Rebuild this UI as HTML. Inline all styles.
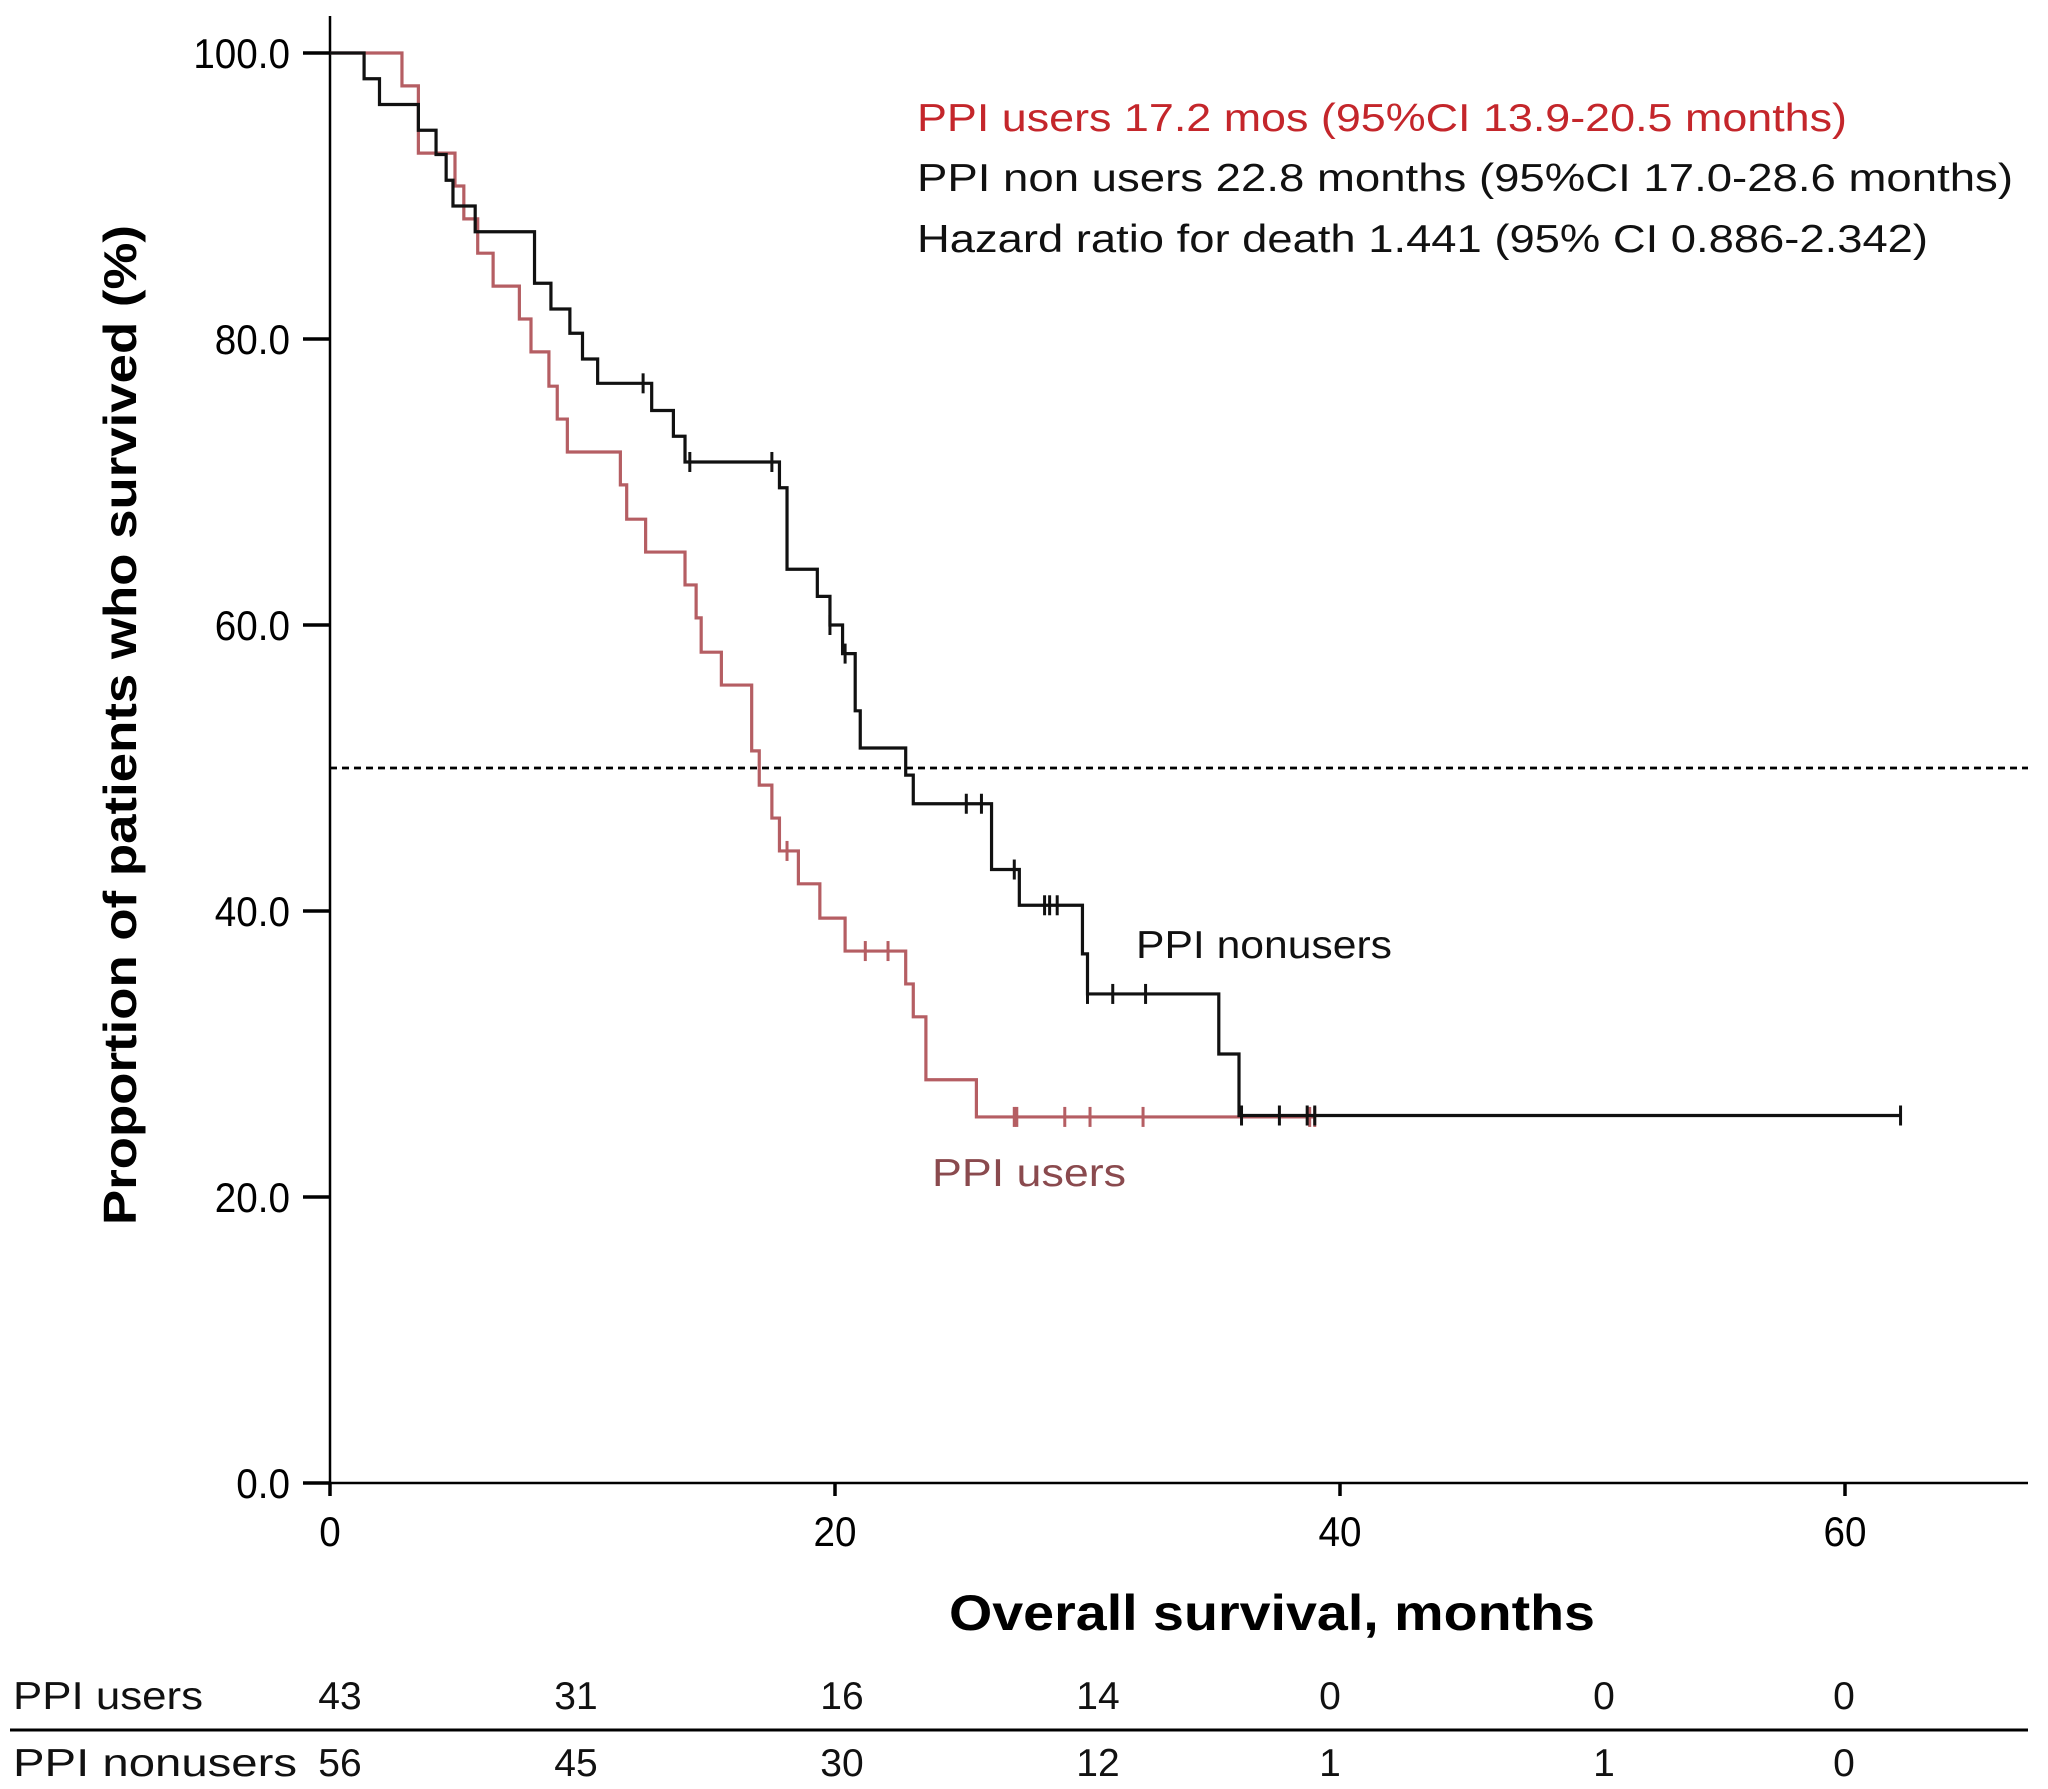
<!DOCTYPE html>
<html><head><meta charset="utf-8"><style>
html,body{margin:0;padding:0;background:#fff;}
svg{display:block;font-family:"Liberation Sans",sans-serif;}
</style></head><body>
<svg id="chart" width="2048" height="1789" viewBox="0 0 2048 1789" xmlns="http://www.w3.org/2000/svg">
<g id="axes"></g>
<g id="plot"></g>
<g id="annot">
<text x="917" y="131" font-size="39" fill="#c4262b" textLength="930" lengthAdjust="spacingAndGlyphs">PPI users 17.2 mos (95%CI 13.9-20.5 months)</text>
<text x="917" y="191" font-size="39" fill="#111" textLength="1096" lengthAdjust="spacingAndGlyphs">PPI non users 22.8 months (95%CI 17.0-28.6 months)</text>
<text x="917" y="252" font-size="39" fill="#111" textLength="1011" lengthAdjust="spacingAndGlyphs">Hazard ratio for death 1.441 (95% CI 0.886-2.342)</text>
<text x="1136" y="958" font-size="39" fill="#111" textLength="256" lengthAdjust="spacingAndGlyphs">PPI nonusers</text>
<text x="932" y="1186" font-size="39" fill="#8a4a4e" textLength="194" lengthAdjust="spacingAndGlyphs">PPI users</text>
<text transform="translate(136,725) rotate(-90)" text-anchor="middle" font-size="46" font-weight="bold" fill="#000" textLength="1000" lengthAdjust="spacingAndGlyphs">Proportion of patients who survived (%)</text>
<text x="1272" y="1630" text-anchor="middle" font-size="50" font-weight="bold" fill="#000" textLength="646" lengthAdjust="spacingAndGlyphs">Overall survival, months</text>
</g>
<g id="risk"></g>
</svg>
<script>
const xTicks=[0,20,40,60];
const yTicks=[0,20,40,60,80,100];
const yTickLabels=["0.0","20.0","40.0","60.0","80.0","100.0"];
const nonusersTimes=[0,1.35,1.96,3.5,4.2,4.6,4.87,5.75,8.1,8.75,9.5,10.0,10.6,12.74,13.6,14.06,17.8,18.1,19.3,19.8,20.3,20.8,21.0,22.8,23.1,26.2,27.3,29.8,30.0,35.2,36.0];
const nonusersSurv=[100,98.2,96.4,94.6,92.9,91.1,89.3,87.5,83.9,82.1,80.4,78.6,76.9,75.0,73.2,71.4,69.6,63.9,62.0,60.0,58.0,54.0,51.4,49.5,47.5,42.9,40.4,37.0,34.2,30.0,25.7];
const nonusersEnd=62.2;
const nonusersCensor=[12.4,14.25,17.5,19.8,20.4,25.2,25.8,27.1,28.3,28.5,28.8,30.0,31.0,32.3,36.1,37.6,38.7,39.0,62.2];
const usersTimes=[0,2.85,3.5,4.95,5.3,5.85,6.46,7.5,7.96,8.67,9.0,9.4,11.5,11.75,12.5,14.06,14.5,14.7,15.5,16.7,17.0,17.5,17.8,18.55,19.4,20.4,22.8,23.1,23.6,25.6];
const usersSurv=[100,97.7,93.0,90.7,88.4,86.0,83.7,81.4,79.1,76.7,74.4,72.1,69.8,67.4,65.1,62.8,60.5,58.1,55.8,51.2,48.8,46.5,44.2,41.9,39.5,37.2,34.9,32.6,28.2,25.6];
const usersEnd=39.0;
const usersCensor=[18.1,21.2,22.1,27.1,27.2,29.1,30.1,32.2,38.8,39.0];
const riskUsers=["43","31","16","14","0","0","0"];
const riskNonusers=["56","45","30","12","1","1","0"];
const riskX=[340,576,842,1098,1330,1604,1844];

const X0=330, PX=25.25, Y0=1483, PY=14.3;
const sx=t=>X0+t*PX, sy=v=>Y0-v*PY;
const NS="http://www.w3.org/2000/svg";
function mk(tag,attrs,parent){const e=document.createElementNS(NS,tag);for(const k in attrs)e.setAttribute(k,attrs[k]);parent.appendChild(e);return e;}
const axes=document.getElementById('axes'), plot=document.getElementById('plot'), risk=document.getElementById('risk');
let e=mk('line',{x1:X0,y1:16,x2:X0,y2:Y0,stroke:'#000','stroke-width':2.5},axes);


e=mk('line',{x1:X0,y1:Y0,x2:2028,y2:Y0,stroke:'#000','stroke-width':2.5},axes);


yTicks.forEach((v,i)=>{
  let t=mk('line',{x1:303,y1:sy(v),x2:X0,y2:sy(v),stroke:'#000','stroke-width':3.5},axes);
  
  
  let l=mk('text',{x:290,y:sy(v)+15,'text-anchor':'end','font-size':42,fill:'#000',transform:'translate(290,0) scale(0.92,1) translate(-290,0)'},axes);
  
  
  l.textContent=yTickLabels[i];
});
xTicks.forEach(v=>{
  let t=mk('line',{x1:sx(v),y1:Y0,x2:sx(v),y2:1496,stroke:'#000','stroke-width':3.5},axes);
  
  
  let l=mk('text',{x:sx(v),y:1546,'text-anchor':'middle','font-size':42,fill:'#000',transform:'translate('+sx(v)+',0) scale(0.92,1) translate('+(-sx(v))+',0)'},axes);
  
  
  l.textContent=String(v);
});
e=mk('line',{x1:X0,y1:sy(50),x2:2028,y2:sy(50),stroke:'#000','stroke-width':2.8,'stroke-dasharray':'7,5'},plot);


function stepPath(ts,vs,end){
  let d='M'+sx(ts[0])+','+sy(vs[0]);
  for(let i=1;i<ts.length;i++){d+=' H'+sx(ts[i])+' V'+sy(vs[i]);}
  d+=' H'+sx(end);return d;
}
function survAt(ts,vs,t){let v=vs[0];for(let i=0;i<ts.length;i++){if(ts[i]<=t)v=vs[i];}return v;}
function drawSeries(ts,vs,end,cens,color,name){
  let p=mk('path',{d:stepPath(ts,vs,end),fill:'none',stroke:color,'stroke-width':3.2},plot);
  
  
  cens.forEach(c=>{
    let y=sy(survAt(ts,vs,c));
    let m=mk('line',{x1:sx(c),y1:y-10,x2:sx(c),y2:y+10,stroke:color,'stroke-width':3},plot);
    
    
  });
}
drawSeries(usersTimes,usersSurv,usersEnd,usersCensor,'#b55e63','users');
drawSeries(nonusersTimes,nonusersSurv,nonusersEnd,nonusersCensor,'#111','nonusers');

e=mk('text',{x:13,y:1709,'font-size':39,fill:'#111',textLength:190,lengthAdjust:'spacingAndGlyphs'},risk);


e.textContent='PPI users';
e=mk('text',{x:13,y:1776,'font-size':39,fill:'#111',textLength:284,lengthAdjust:'spacingAndGlyphs'},risk);


e.textContent='PPI  nonusers';
e=mk('line',{x1:10,y1:1730,x2:2028,y2:1730,stroke:'#000','stroke-width':3},risk);


riskUsers.forEach((v,i)=>{
  let t=mk('text',{x:riskX[i],y:1709,'text-anchor':'middle','font-size':39,fill:'#111'},risk);
  
  
  t.textContent=v;
});
riskNonusers.forEach((v,i)=>{
  let t=mk('text',{x:riskX[i],y:1776,'text-anchor':'middle','font-size':39,fill:'#111'},risk);
  
  
  t.textContent=v;
});
</script>
</body></html>
